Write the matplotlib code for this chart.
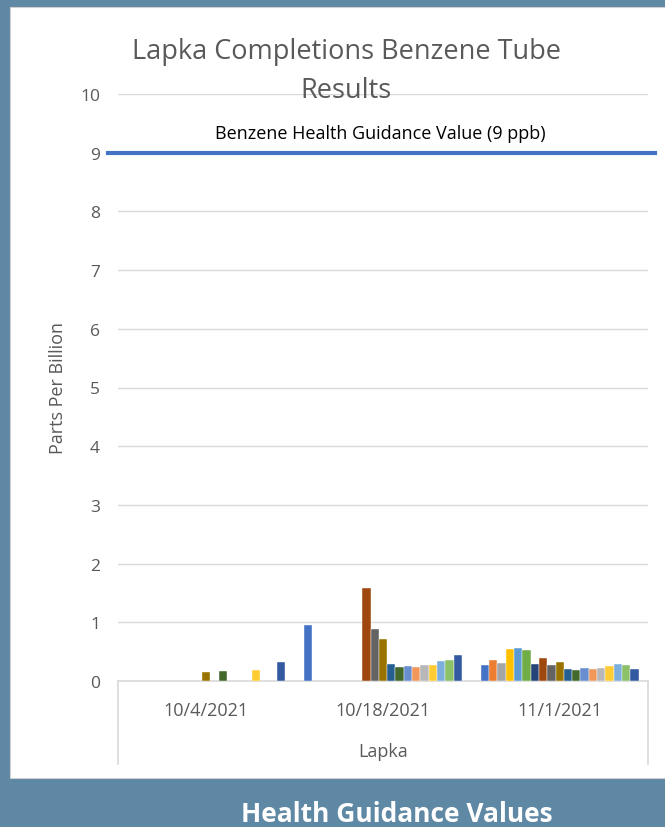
import numpy as np
import matplotlib.pyplot as plt
from matplotlib.patches import Rectangle

plt.rcParams['font.family'] = ['Open Sans', 'DejaVu Sans']

dates = ['10/4/2021', '10/18/2021', '11/1/2021']
site = 'Lapka'
guidance_value = 9
guidance_label = 'Benzene Health Guidance Value (9 ppb)'

# one row per sample tube (19 tubes), columns = dates; nan = no result
tube_values = [
    [np.nan, 0.96, 0.28],
    [np.nan, np.nan, 0.35],
    [np.nan, np.nan, 0.31],
    [np.nan, np.nan, 0.54],
    [np.nan, np.nan, 0.57],
    [np.nan, np.nan, 0.52],
    [np.nan, np.nan, 0.29],
    [np.nan, 1.59, 0.39],
    [np.nan, 0.88, 0.27],
    [0.155, 0.71, 0.33],
    [np.nan, 0.29, 0.21],
    [0.17, 0.23, 0.19],
    [np.nan, 0.25, 0.22],
    [np.nan, 0.23, 0.20],
    [np.nan, 0.28, 0.22],
    [0.18, 0.27, 0.26],
    [np.nan, 0.34, 0.29],
    [np.nan, 0.36, 0.27],
    [0.33, 0.45, 0.21],
]

# Excel default palette cycle
colors = ['#4472C4', '#ED7D31', '#A5A5A5', '#FFC000', '#5B9BD5', '#70AD47',
          '#264478', '#9E480E', '#636363', '#997300', '#255E91', '#43682B',
          '#698ED0', '#F1975A', '#B7B7B7', '#FFCD33', '#7CAFDD', '#8CC168',
          '#335AA1']

W, H = 665, 828
fig = plt.figure(figsize=(W / 100, H / 100), dpi=100)
fig.patch.set_facecolor('#5E88A4')

# white chart panel
fig.patches.append(Rectangle((10 / W, 1 - 779 / H), 1, (779 - 8) / H,
                             transform=fig.transFigure, facecolor='white',
                             edgecolor='#D0D0D0', lw=0.8, zorder=-5))

left, right, top, bottom = 118, 648, 95, 682
ax = fig.add_axes([left / W, 1 - bottom / H, (right - left) / W, (bottom - top) / H])
ax.set_facecolor('none')

n = len(tube_values)
x = np.arange(len(dates))
group_w = 0.895
bw = group_w / n
for i, vals in enumerate(tube_values):
    ax.bar(x - group_w / 2 + bw * (i + 0.5), vals, width=bw, color=colors[i],
           edgecolor='white', linewidth=0.3, zorder=3)

ax.set_xlim(-0.5, len(dates) - 0.5)
ax.set_ylim(0, 10)
ax.set_yticks(range(0, 11))
ax.tick_params(axis='y', length=0, labelsize=12.5, labelcolor='#595959', pad=13)
ax.tick_params(axis='x', length=0)
ax.set_xticks([])
ax.grid(axis='y', color='#D9D9D9', lw=1, zorder=0)
for s in ['top', 'right', 'left']:
    ax.spines[s].set_visible(False)
ax.spines['bottom'].set_color('#D9D9D9')
ax.spines['bottom'].set_linewidth(1.2)

# health guidance line
ax.plot([-0.019, 1.013], [guidance_value, guidance_value], color='#4472C4', lw=3,
        transform=ax.get_yaxis_transform(), clip_on=False, zorder=4)
ax.text(0.495, 9.34, guidance_label, transform=ax.get_yaxis_transform(),
        ha='center', va='center', fontsize=13, color='black')

# category axis labels
drop = (765 - 682) / (682 - 95)
for xx in [0, 1]:
    ax.plot([xx, xx], [0, -drop], transform=ax.transAxes, color='#D9D9D9',
            lw=1.2, clip_on=False)
for xi, d in zip(x, dates):
    ax.text(xi, -0.5, d, ha='center', va='center', fontsize=13, color='#595959')
ax.text(1, -1.2, site, ha='center', va='center', fontsize=13, color='#595959')

ax.set_ylabel('Parts Per Billion', fontsize=13, color='#595959')
ax.yaxis.set_label_coords(-0.097, 0.5)

fig.text(346 / W, 1 - 59 / H, 'Lapka Completions Benzene Tube', ha='center',
         va='baseline', fontsize=19.5, color='#595959')
fig.text(346 / W, 1 - 98 / H, 'Results', ha='center', va='baseline',
         fontsize=19.5, color='#595959')

fig.text(397 / W, 1 - 822 / H, 'Health Guidance Values', ha='center',
         va='baseline', fontsize=19, fontweight='bold', color='white')

fig.savefig('out.png', dpi=100, facecolor=fig.get_facecolor())
